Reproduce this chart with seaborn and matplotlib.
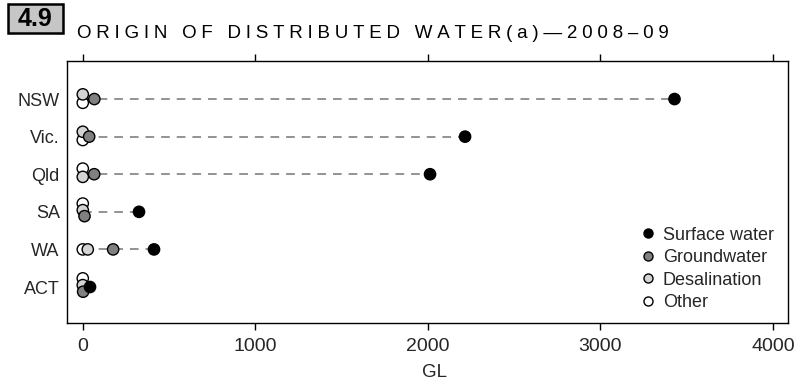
import matplotlib
matplotlib.use("Agg")
import matplotlib.pyplot as plt
from matplotlib.patches import Rectangle
import seaborn as sns
import pandas as pd

# ---- data ----
states = ["NSW", "Vic.", "Qld", "SA", "WA", "ACT"]
surface_water = [3430, 2216, 2013, 326, 413, 42]
groundwater = [67, 37, 66, 10, 176, 2]
desalination = [0, 0, 0, 0, 29, 0]
other = [0, 0, 0, 0, 0, 0]
sources = ["Surface water", "Groundwater", "Desalination", "Other"]
x_ticks = [0, 1000, 2000, 3000, 4000]

# small vertical offsets (style only) used to avoid overlap, per source per state
nudge = {
    "Other":         [0.10, 0.09, -0.15, -0.22, 0.0, -0.23],
    "Desalination":  [-0.125, -0.13, 0.07, -0.045, 0.0, -0.05],
    "Groundwater":   [0.0, 0.0, 0.0, 0.115, 0.0, 0.125],
    "Surface water": [0.0, 0.0, 0.0, 0.0, 0.0, 0.0],
}

values = {"Surface water": surface_water, "Groundwater": groundwater,
          "Desalination": desalination, "Other": other}

# draw order: Other, Desalination, Groundwater, Surface water
rows = []
for src in ["Other", "Desalination", "Groundwater", "Surface water"]:
    for i, st in enumerate(states):
        rows.append({"state": st, "source": src, "GL": values[src][i],
                     "ypos": i + nudge[src][i]})
df = pd.DataFrame(rows)

sns.set_theme(style="white")
plt.rcParams["font.family"] = ["Liberation Sans", "DejaVu Sans"]

fig = plt.figure(figsize=(8.02, 3.83), dpi=100)
ax = fig.add_axes([0.0832, 0.1574, 0.8998, 0.6841])

# dashed connector lines
lo = df.groupby("state", sort=False)["GL"].min().reindex(states)
hi = df.groupby("state", sort=False)["GL"].max().reindex(states)
ax.hlines(y=range(len(states)), xmin=lo.values, xmax=hi.values,
          colors="#858585", linewidth=1.25, linestyles=(0, (5.0, 4.0)), zorder=1)

palette = {"Surface water": "#000000", "Groundwater": "#808080",
           "Desalination": "#d4d4d4", "Other": "#ffffff"}
sns.scatterplot(data=df, x="GL", y="ypos", hue="source", hue_order=sources,
                palette=palette, s=66, edgecolor="black", linewidth=1.0,
                ax=ax, zorder=3, legend=True)

ax.set_xlim(-93, 4090)
ax.set_ylim(5.95, -1.02)
ax.set_yticks(range(len(states)))
ax.set_yticklabels(states)
ax.set_xticks(x_ticks)
ax.set_xticklabels([str(t) for t in x_ticks])
ax.set_ylabel("")
ax.set_xlabel("GL", fontsize=13.5)
ax.xaxis.set_label_coords(0.509, -0.157)

ax.tick_params(axis="x", which="both", bottom=True, top=True, direction="out",
               length=5, width=1.0, color="black", labelsize=14, pad=6)
ax.tick_params(axis="y", left=False, right=False, length=0, labelsize=13, pad=5)
for sp in ax.spines.values():
    sp.set_color("black")
    sp.set_linewidth(1.0)

leg = ax.legend(loc="lower left", bbox_to_anchor=(0.7935, 0.045), frameon=False,
                fontsize=13, handlelength=1.0, handletextpad=0.3,
                labelspacing=0.3, borderpad=0, borderaxespad=0,
                markerscale=0.8)
for h in leg.legend_handles:
    if hasattr(h, "set_markeredgecolor"):
        h.set_markeredgecolor("black")
    elif hasattr(h, "set_edgecolor"):
        h.set_edgecolor("black")

# header box "4.9"
fig.patches.append(Rectangle((8 / 802, (383 - 33) / 383), 55 / 802, 29 / 383,
                             transform=fig.transFigure, facecolor="#c6c6c6",
                             edgecolor="black", linewidth=1.8))
fig.text(35.5 / 802, (383 - 19) / 383, "4.9", fontsize=18, fontweight="bold",
         ha="center", va="center", color="black")

title = "\u2005".join("ORIGIN OF DISTRIBUTED WATER(a)\u20142008\u201309")
fig.text(77 / 802, (383 - 38) / 383, title, fontsize=13.5,
         family=["Liberation Sans", "DejaVu Sans"], ha="left", va="baseline",
         color="black")

fig.savefig("out.png", dpi=100)
